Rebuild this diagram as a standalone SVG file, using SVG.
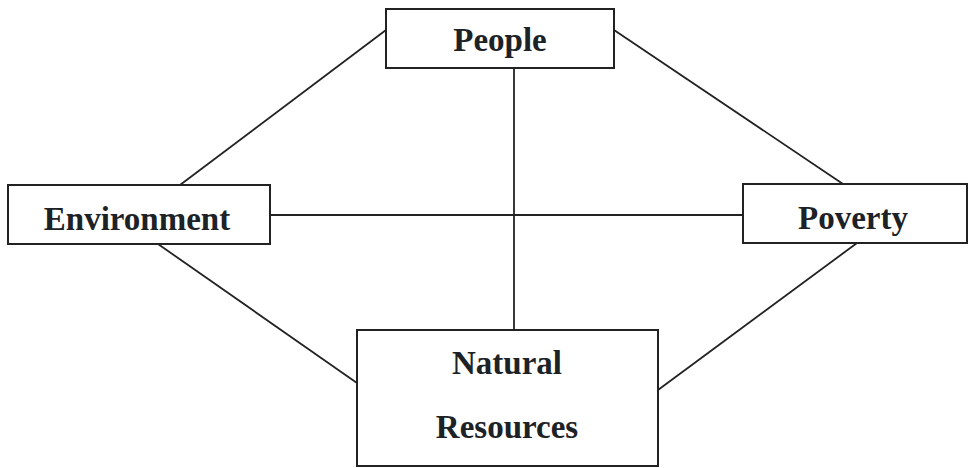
<svg xmlns="http://www.w3.org/2000/svg" width="969" height="468" viewBox="0 0 969 468">
<style>
.box{fill:#fff;stroke:#222;stroke-width:2}
.lbl{font-family:"Liberation Serif","Times New Roman",serif;font-weight:bold;font-size:33px;fill:#1c2226;text-anchor:middle}
.conn line{stroke:#222;stroke-width:1.8}
</style>
<rect width="969" height="468" fill="#fff"/>
<g id="connectors" class="conn">
<line x1="386" y1="30" x2="180" y2="185"/>
<line x1="614" y1="30" x2="843" y2="184"/>
<line x1="514" y1="68" x2="514" y2="330"/>
<line x1="270" y1="215" x2="743" y2="215"/>
<line x1="158" y1="244" x2="357" y2="383"/>
<line x1="857" y1="243" x2="658" y2="390"/>
</g>
<g id="people">
<rect class="box" x="386" y="9" width="228" height="59"/>
<text class="lbl" x="500" y="51">People</text>
</g>
<g id="environment">
<rect class="box" x="8" y="185" width="262" height="59"/>
<text class="lbl" x="137" y="230">Environment</text>
</g>
<g id="poverty">
<rect class="box" x="743" y="184" width="224" height="59"/>
<text class="lbl" x="853" y="229">Poverty</text>
</g>
<g id="natural-resources">
<rect class="box" x="357" y="330" width="301" height="136"/>
<text class="lbl" x="507" y="374">Natural</text>
<text class="lbl" x="507" y="438">Resources</text>
</g>
</svg>
